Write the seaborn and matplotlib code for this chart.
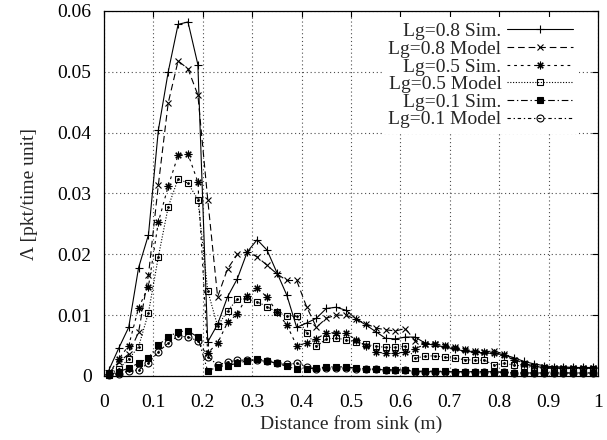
import numpy as np
import pandas as pd
import seaborn as sns
import matplotlib.pyplot as plt
from matplotlib.ticker import FuncFormatter

# bin centres (m)
distance = [0.01, 0.03, 0.05, 0.07, 0.09, 0.11, 0.13, 0.15, 0.17, 0.19,
            0.21, 0.23, 0.25, 0.27, 0.29, 0.31, 0.33, 0.35, 0.37, 0.39,
            0.41, 0.43, 0.45, 0.47, 0.49, 0.51, 0.53, 0.55, 0.57, 0.59,
            0.61, 0.63, 0.65, 0.67, 0.69, 0.71, 0.73, 0.75, 0.77, 0.79,
            0.81, 0.83, 0.85, 0.87, 0.89, 0.91, 0.93, 0.95, 0.97, 0.99]

lg08_sim = [0.0010, 0.0046, 0.0080, 0.0178, 0.0232, 0.0404, 0.0500, 0.0578, 0.0582, 0.0512,
            0.0056, 0.0085, 0.0130, 0.0160, 0.0204, 0.0224, 0.0207, 0.0170, 0.0133, 0.0080,
            0.0087, 0.0095, 0.0111, 0.0113, 0.0108, 0.0094, 0.0084, 0.0073, 0.0062, 0.0061,
            0.0064, 0.0064, 0.0054, 0.0050, 0.0048, 0.0044, 0.0041, 0.0039, 0.0038, 0.0037,
            0.0035, 0.0030, 0.0024, 0.0020, 0.0017, 0.0015, 0.0015, 0.0014, 0.0014, 0.0014]
lg08_mod = [0.0005, 0.0023, 0.0036, 0.0072, 0.0166, 0.0314, 0.0449, 0.0518, 0.0505, 0.0462,
            0.0290, 0.0130, 0.0176, 0.0200, 0.0204, 0.0196, 0.0182, 0.0168, 0.0157, 0.0157,
            0.0114, 0.0080, 0.0095, 0.0100, 0.0100, 0.0093, 0.0086, 0.0079, 0.0076, 0.0074,
            0.0078, 0.0058, 0.0053, 0.0053, 0.0051, 0.0048, 0.0044, 0.0041, 0.0040, 0.0041,
            0.0036, 0.0027, 0.0021, 0.0016, 0.0014, 0.0013, 0.0013, 0.0013, 0.0013, 0.0013]
lg05_sim = [0.0004, 0.0028, 0.0050, 0.0112, 0.0147, 0.0253, 0.0312, 0.0363, 0.0365, 0.0319,
            0.0038, 0.0054, 0.0088, 0.0102, 0.0132, 0.0144, 0.0130, 0.0105, 0.0084, 0.0050,
            0.0054, 0.0061, 0.0071, 0.0071, 0.0070, 0.0060, 0.0049, 0.0040, 0.0037, 0.0038,
            0.0039, 0.0045, 0.0052, 0.0052, 0.0050, 0.0046, 0.0042, 0.0040, 0.0039, 0.0038,
            0.0034, 0.0026, 0.0020, 0.0016, 0.0014, 0.0013, 0.0013, 0.0013, 0.0013, 0.0013]
lg05_mod = [0.0003, 0.0012, 0.0028, 0.0048, 0.0104, 0.0196, 0.0278, 0.0324, 0.0317, 0.0290,
            0.0140, 0.0082, 0.0107, 0.0126, 0.0127, 0.0122, 0.0114, 0.0105, 0.0099, 0.0098,
            0.0071, 0.0049, 0.0061, 0.0062, 0.0060, 0.0056, 0.0052, 0.0049, 0.0047, 0.0047,
            0.0049, 0.0029, 0.0033, 0.0033, 0.0031, 0.0029, 0.0027, 0.0026, 0.0026, 0.0018,
            0.0021, 0.0018, 0.0016, 0.0014, 0.0013, 0.0012, 0.0012, 0.0012, 0.0012, 0.0012]
lg01_sim = [0.0002, 0.0007, 0.0013, 0.0021, 0.0030, 0.0051, 0.0064, 0.0073, 0.0074, 0.0064,
            0.0008, 0.0015, 0.0017, 0.0021, 0.0025, 0.0028, 0.0025, 0.0021, 0.0016, 0.0011,
            0.0012, 0.0013, 0.0015, 0.0015, 0.0015, 0.0013, 0.0012, 0.0011, 0.0010, 0.0010,
            0.0010, 0.0008, 0.0008, 0.0008, 0.0008, 0.0007, 0.0007, 0.0007, 0.0007, 0.0007,
            0.0006, 0.0005, 0.0005, 0.0005, 0.0005, 0.0005, 0.0005, 0.0005, 0.0005, 0.0005]
lg01_mod = [0.0002, 0.0004, 0.0008, 0.0010, 0.0021, 0.0040, 0.0054, 0.0066, 0.0064, 0.0058,
            0.0032, 0.0018, 0.0023, 0.0026, 0.0026, 0.0026, 0.0024, 0.0021, 0.0019, 0.0021,
            0.0015, 0.0012, 0.0013, 0.0013, 0.0013, 0.0012, 0.0011, 0.0011, 0.0010, 0.0010,
            0.0010, 0.0007, 0.0007, 0.0007, 0.0007, 0.0007, 0.0007, 0.0007, 0.0007, 0.0007,
            0.0006, 0.0005, 0.0005, 0.0005, 0.0005, 0.0005, 0.0005, 0.0005, 0.0005, 0.0005]

labels = ["Lg=0.8 Sim.", "Lg=0.8 Model", "Lg=0.5 Sim.",
          "Lg=0.5 Model", "Lg=0.1 Sim.", "Lg=0.1 Model"]
series = [lg08_sim, lg08_mod, lg05_sim, lg05_mod, lg01_sim, lg01_mod]

# gnuplot-like line types / point types
styles = [
    dict(linestyle="-", marker="+", ms=5.5, mfc="none"),
    dict(linestyle=(0, (6, 3.5)), marker="x", ms=4.8, mfc="none"),
    dict(linestyle=(0, (2.5, 3.5)), marker=(8, 2, 0), ms=5.5, mfc="none"),
    dict(linestyle=(0, (1, 1.5)), marker="s", ms=4.8, mfc="none"),
    dict(linestyle=(0, (6, 2.5, 1.2, 2.5)), marker="s", ms=4.8, mfc="black"),
    dict(linestyle=(0, (3, 2.5, 1.2, 2.5)), marker="o", ms=5.0, mfc="none"),
]

sns.set_theme(style="white")
plt.rcParams["font.family"] = ["Liberation Serif", "DejaVu Serif"]
plt.rcParams["mathtext.fontset"] = "stix"

fig = plt.figure(figsize=(6.07, 4.40), dpi=100)
ax = fig.add_axes([104 / 607, 1 - 376 / 440, 494 / 607, 365 / 440])

for lab, vals, st in zip(labels, series, styles):
    df = pd.DataFrame({"x": distance, "y": vals})
    sns.lineplot(data=df, x="x", y="y", ax=ax, color="black", lw=0.8,
                 mec="black", mew=0.8, label=lab, clip_on=False, **st)
    if st["marker"] in ("s", "o") and st["mfc"] == "none":
        ax.plot(df["x"], df["y"], ls="none", marker="o", ms=1.0,
                color="black", clip_on=False)

ax.set_xlim(0, 1)
ax.set_ylim(0, 0.06)
ax.set_xticks(np.arange(0, 1.01, 0.1))
ax.set_yticks(np.arange(0, 0.061, 0.01))
fmt = FuncFormatter(lambda v, p: "%g" % round(v, 4))
ax.xaxis.set_major_formatter(fmt)
ax.yaxis.set_major_formatter(fmt)

ax.grid(True, color="0.3", linestyle=(0, (1, 2.5)), lw=0.8)
ax.tick_params(direction="in", length=4.5, width=0.8, top=True, right=True,
               labelsize=14, colors="black")
ax.tick_params(axis="x", pad=13)
ax.tick_params(axis="y", pad=9)
for s in ax.spines.values():
    s.set_color("black")
    s.set_linewidth(0.9)

ax.set_xlabel("Distance from sink (m)", fontsize=14, labelpad=3)
ax.set_ylabel("Λ [pkt/time unit]", fontsize=14, labelpad=14)

leg = ax.legend(loc="upper right", bbox_to_anchor=(0.962, 0.984),
                markerfirst=False, frameon=True, fontsize=14, numpoints=1,
                handlelength=3.4, handletextpad=0.3, labelspacing=0.0,
                borderpad=0.3, borderaxespad=0, fancybox=False)
leg.get_frame().set_facecolor("white")
leg.get_frame().set_edgecolor("none")
leg.get_frame().set_alpha(1)

fig.savefig("out.png", dpi=100)
